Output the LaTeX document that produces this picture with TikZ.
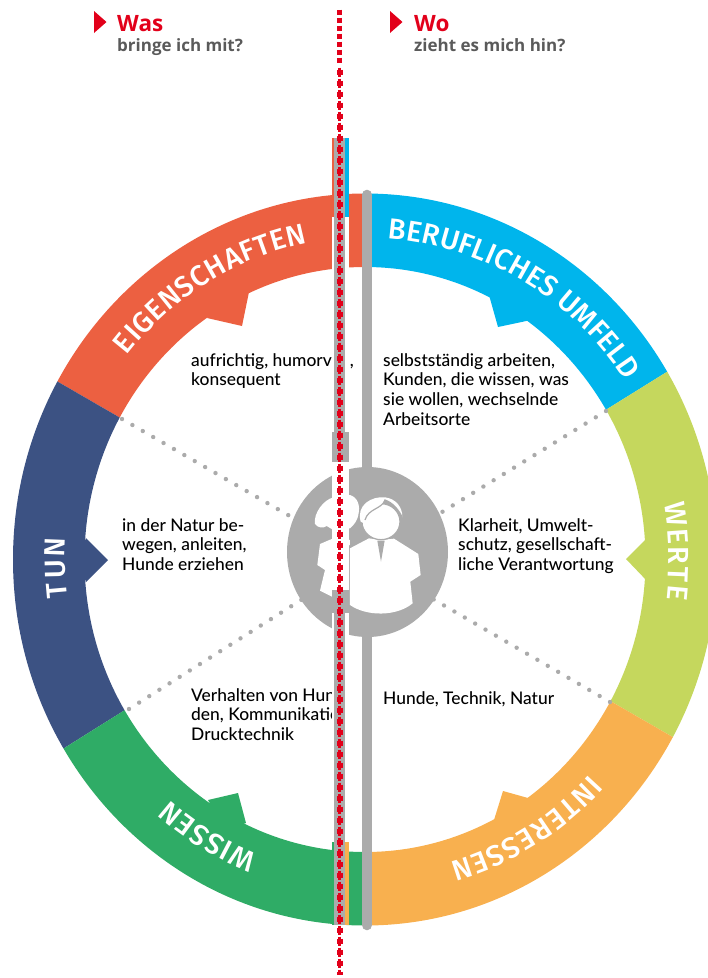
\documentclass[tikz,border=0pt]{standalone}
\usepackage{fontspec}
\usetikzlibrary{decorations.text}
\setmainfont{Open Sans}
\newfontfamily\ringfont{Fira Sans Medium}
\newfontfamily\headfont{Open Sans}
\newfontfamily\handfont{Lato Medium}
\definecolor{cOrange}{HTML}{EC6041}
\definecolor{cBlue}{HTML}{00B5EC}
\definecolor{cNavy}{HTML}{3C5283}
\definecolor{cLime}{HTML}{C5D75D}
\definecolor{cGreen}{HTML}{2FAC66}
\definecolor{cPeach}{HTML}{F8B04F}
\definecolor{cGray}{HTML}{ABABAB}
\definecolor{cRed}{HTML}{E2001A}
\definecolor{cHead}{HTML}{5A5A5A}
\tikzset{
  bodytext/.style={anchor=north west,align=left,inner sep=0pt,text=black,font=\handfont\fontsize{17.4}{19.8}\selectfont},
  spoke/.style={draw=cGray,line width=4.4pt,line cap=round,dash pattern=on 0pt off 12pt},
  headline/.style={anchor=base west,inner sep=0pt,text=cRed,font=\headfont\bfseries\fontsize{22.5}{24}\selectfont},
  subline/.style={anchor=base west,inner sep=0pt,text=cHead,font=\headfont\bfseries\fontsize{17}{19}\selectfont},
  ringtext/.style={decorate,decoration={text along path,text align=fit to path,text={|\ringfont\fontsize{29}{29}\selectfont\color{white}|#1}}}
}
\newcommand{\ringpart}[2]{%
  \begin{scope}
    \clip #2;
    \fill[#1,even odd rule] (365,559.5) ellipse [x radius=352pt,y radius=366pt]
      (365,559.5) ellipse [x radius=280.5pt,y radius=292.5pt];
  \end{scope}}
\begin{document}
\begin{tikzpicture}[x=1pt,y=-1pt]
\useasboundingbox (0,0) rectangle (708,978);
\clip (0,0) rectangle (708,978);
\coordinate (C) at (365,559.5);
% ring
\ringpart{cOrange}{(C) -- (-92,295) -- (-92,-100) -- (362,-100) -- (362,559.5) -- cycle}
\ringpart{cNavy}{(C) -- (-92,295) -- (-84,841) -- cycle}
\ringpart{cGreen}{(C) -- (-84,841) -- (-84,1100) -- (362,1100) -- (362,559.5) -- cycle}
\ringpart{cBlue}{(C) -- (362,559.5) -- (362,-100) -- (900,-100) -- (818,278) -- cycle}
\ringpart{cLime}{(C) -- (818,278) -- (827,826) -- cycle}
\ringpart{cPeach}{(C) -- (827,826) -- (900,1100) -- (362,1100) -- (362,559.5) -- cycle}
% notches
\fill[cOrange] (207,318) -- (242,326) -- (249,292) -- (225,285) -- cycle;
\fill[cBlue] (489,295) -- (498,327) -- (531,320) -- (510,290) -- cycle;
\fill[cNavy] (86,538) -- (108,560) -- (86,582) -- (78,560) -- cycle;
\fill[cLime] (648,537) -- (626,559) -- (648,582) -- (656,560) -- cycle;
\fill[cGreen] (208,800) -- (238,793) -- (246,823) -- (225,830) -- cycle;
\fill[cPeach] (494,820) -- (503,791) -- (528,798) -- (515,825) -- cycle;
% ring labels
\path[ringtext=EIGENSCHAFTEN] plot[domain=219.4:259.3,samples=80] ({365+308*cos(\x)},{559.5+322*sin(\x)});
\path[ringtext=BERUFLICHES UMFELD] plot[domain=274.2:324.9,samples=100] ({365+313*cos(\x)},{559.5+322*sin(\x)});
\path[ringtext=TUN] plot[domain=173.3:183.9,samples=30] ({365+300*cos(\x)},{559.5+322*sin(\x)});
\path[ringtext=WERTE] plot[domain=349.9:367.2,samples=40] ({365+304*cos(\x)},{559.5+322*sin(\x)});
\path[ringtext=WISSEN] plot[domain=110.9:130.3,samples=40] ({365+302*cos(\x)},{559.5+315*sin(\x)});
\path[ringtext=INTERESSEN] plot[domain=43:74,samples=60] ({365+307*cos(\x)},{559.5+315*sin(\x)});
% spokes
\coordinate (s1) at (122,419); \coordinate (s2) at (129,709);
\coordinate (s3) at (606,411); \coordinate (s4) at (610,702);
\draw[spoke] (s1) -- (C);
\draw[spoke] (s2) -- (C);
\draw[spoke] (s3) -- (C);
\draw[spoke] (s4) -- (C);
% body texts
\node[bodytext] (t1) at (191,353) {aufrichtig, humorvoll,\\konsequent};
\node[bodytext] (t2) at (383,353) {selbstst\"andig arbeiten,\\Kunden, die wissen, was\\sie wollen, wechselnde\\Arbeitsorte};
\node[bodytext] (t3) at (122,518) {in der Natur be-\\wegen, anleiten,\\Hunde erziehen};
\node[bodytext] (t4) at (458,518) {Klarheit, Umwelt-\\schutz, gesellschaft-\\liche Verantwortung};
\begin{scope}
  \clip (180,670) rectangle (345,760);
  \node[bodytext] (t5) at (191,688) {Verhalten von Hun-\\den, Kommunikation,\\Drucktechnik};
\end{scope}
\node[bodytext] (t6) at (383,691) {Hunde, Technik, Natur};
% central bar and disc
\draw[cGray,line width=10.6pt,line cap=round] (367,195) -- (367,925);
\fill[cGray] (367.5,552) ellipse [x radius=80.5pt,y radius=85pt];
% people
\begin{scope}[shift={(270,420)},x=0.3333pt,y=-0.3333pt]
  % girl
  \fill[white] (135,312) .. controls (130,280) and (160,240) .. (190,232) -- (240,225) .. controls (262,232) and (272,255) .. (265,285) .. controls (262,300) and (255,312) .. (240,325) -- (190,330) -- (170,318) .. controls (160,325) and (145,325) .. (135,312) -- cycle;
  \fill[white] (150,372) -- (190,355) -- (240,360) -- (240,530) -- (190,532) -- (150,512) -- (165,450) -- (142,435) -- cycle;
  % man
  \fill[cGray] (232,380) -- (296,340) -- (380,340) -- (458,400) -- (466,476) -- (436,495) -- (440,590) -- (236,590) -- cycle;
  \fill[white] (240,385) -- (297,355) -- (333,360) -- (372,356) -- (445,402) -- (452,465) -- (421,485) -- (428,550) .. controls (380,590) and (290,590) .. (240,555) -- cycle;
  \fill[cGray] (322,362) -- (333,425) -- (344,362) -- cycle;
  \filldraw[fill=white,draw=cGray,line width=1.2pt] (333,305) ellipse [x radius=19pt,y radius=18pt];
  \fill[white] (272,305) .. controls (258,255) and (305,228) .. (345,232) .. controls (378,236) and (398,262) .. (397,292) .. controls (385,268) and (368,248) .. (345,240) .. controls (335,268) and (295,265) .. (285,300) -- (278,308) -- cycle;
  \draw[cGray,line width=1.2pt] (285,300) .. controls (295,265) and (335,268) .. (345,240) .. controls (368,248) and (385,268) .. (397,292);
\end{scope}
% central strip
\fill[white] (331.5,217) rectangle (349,842);
\fill[cOrange] (332,138) rectangle (335,217);
\fill[cBlue] (344,138) rectangle (349,217);
\fill[cGreen] (332,842) rectangle (335,925);
\fill[cPeach] (344,842) rectangle (349,925);
\fill[cGray] (334,138) rectangle (345,432);
\fill[cGray] (331.5,432) rectangle (349,462);
\fill[cGray] (331.5,590) rectangle (349,613);
\fill[cGray] (334,613) rectangle (345,925);
% red line
\coordinate (r0) at (339.7,9.5); \coordinate (r1) at (339.7,64);
\coordinate (r2) at (339.7,69.5); \coordinate (r3) at (339.7,975);
\coordinate (r4) at (339.7,67.5);
\draw[cRed,line width=5pt,dash pattern=on 5pt off 3pt] (r0) -- (r1);
\draw[cRed,line width=6pt,dash pattern=on 5pt off 6pt] (r2) -- (r3);
\draw[cRed,line width=3pt,dash pattern=on 9pt off 2pt] (r4) -- (r3);
% header
\fill[cRed] (94,11) -- (106.5,22) -- (94,33) -- cycle;
\fill[cRed] (390,11) -- (402.5,22) -- (390,33) -- cycle;
\node[headline] (h1) at (117,31) {Was};
\node[subline] (h2) at (117,51) {bringe ich mit?};
\node[headline] (h3) at (414,31) {Wo};
\node[subline] (h4) at (414,51) {zieht es mich hin?};
\end{tikzpicture}
\end{document}
